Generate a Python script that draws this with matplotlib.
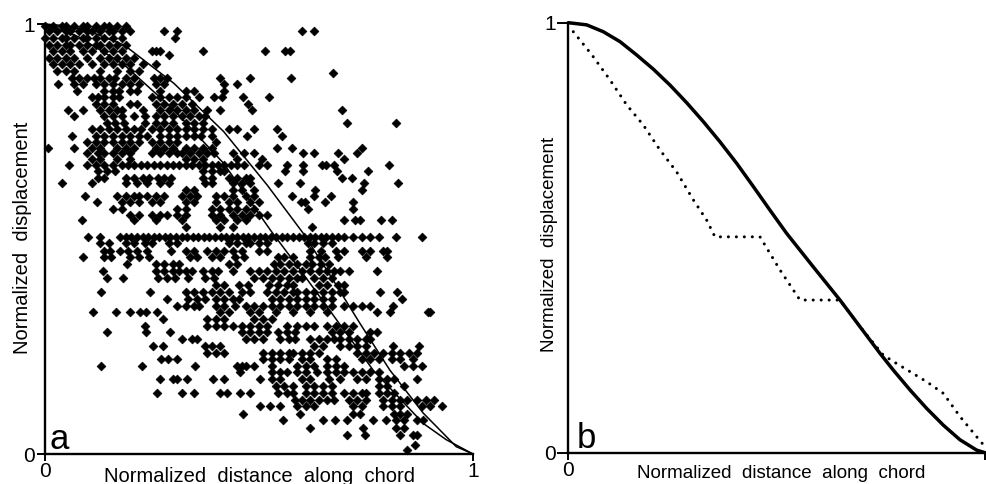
import matplotlib
matplotlib.use('Agg')
import matplotlib.pyplot as plt

plt.rcParams['font.family'] = ['Liberation Sans', 'DejaVu Sans']

################################################################################################
# DATA
################################################################################################

# panel a: the two reference curves
a_outer_x = [0.0, 0.05, 0.10, 0.186, 0.302, 0.418, 0.52, 0.604, 0.667, 0.736, 0.806, 0.884, 0.961, 1.0]
a_outer_y = [1.0, 0.996, 0.985, 0.951, 0.862, 0.750, 0.625, 0.513, 0.415, 0.304, 0.195, 0.095, 0.017, 0.0]
a_inner_x = [0.0, 0.08, 0.186, 0.302, 0.418, 0.527, 0.597, 0.659, 0.767, 0.884, 0.938, 1.0]
a_inner_y = [1.0, 0.97, 0.905, 0.800, 0.676, 0.521, 0.428, 0.343, 0.195, 0.071, 0.033, 0.0]

# panel a: measured points, grouped by row -> (displacement, [distances])
scatter_rows = [
    (0.995, [0.00, 0.02, 0.04, 0.05, 0.07, 0.09, 0.10, 0.12, 0.14, 0.15, 0.17, 0.19]),
    (0.983, [0.01, 0.03, 0.05, 0.06, 0.08, 0.10, 0.11, 0.13, 0.15, 0.16, 0.18, 0.20, 0.28, 0.31, 0.60, 0.63]),
    (0.967, [0.00, 0.02, 0.04, 0.05, 0.07, 0.09, 0.10, 0.12, 0.14, 0.16, 0.18, 0.305]),
    (0.951, [0.01, 0.03, 0.05, 0.06, 0.08, 0.10, 0.12, 0.13, 0.15, 0.17, 0.19]),
    (0.938, [0.02, 0.04, 0.06, 0.09, 0.11, 0.14, 0.16, 0.18, 0.25, 0.26, 0.27, 0.37, 0.515, 0.562, 0.572]),
    (0.928, [0.29]),
    (0.922, [0.01, 0.03, 0.05, 0.07, 0.10, 0.13, 0.15, 0.17, 0.19, 0.21]),
    (0.906, [0.02, 0.04, 0.06, 0.08, 0.11, 0.14, 0.16, 0.18, 0.20, 0.23, 0.26]),
    (0.890, [0.03, 0.05, 0.07, 0.13, 0.17, 0.20, 0.22]),
    (0.885, [0.674]),
    (0.875, [0.065, 0.08, 0.10, 0.115, 0.13, 0.15, 0.165, 0.19, 0.21, 0.255, 0.27, 0.285, 0.41, 0.48, 0.575]),
    (0.860, [0.032, 0.07, 0.09, 0.12, 0.14, 0.16, 0.18, 0.20, 0.22, 0.26, 0.28, 0.42, 0.45]),
    (0.845, [0.075, 0.14, 0.16, 0.175, 0.20, 0.215, 0.27, 0.33, 0.35, 0.42]),
    (0.830, [0.11, 0.125, 0.14, 0.16, 0.175, 0.25, 0.27, 0.29, 0.31, 0.33, 0.36, 0.395, 0.415, 0.464, 0.525]),
    (0.815, [0.12, 0.14, 0.16, 0.20, 0.215, 0.26, 0.28, 0.30, 0.32, 0.345, 0.476]),
    (0.800, [0.056, 0.091, 0.13, 0.15, 0.17, 0.18, 0.23, 0.27, 0.29, 0.31, 0.33, 0.35, 0.379, 0.41, 0.484, 0.694]),
    (0.785, [0.068, 0.14, 0.16, 0.18, 0.21, 0.235, 0.26, 0.28, 0.30, 0.32, 0.34, 0.36, 0.375]),
    (0.770, [0.145, 0.165, 0.185, 0.235, 0.26, 0.28, 0.30, 0.33, 0.35, 0.37, 0.707, 0.821]),
    (0.755, [0.11, 0.13, 0.15, 0.17, 0.19, 0.21, 0.225, 0.25, 0.27, 0.29, 0.31, 0.33, 0.35, 0.37, 0.39, 0.43, 0.45, 0.488, 0.542]),
    (0.740, [0.064, 0.12, 0.14, 0.16, 0.18, 0.20, 0.22, 0.24, 0.27, 0.29, 0.31, 0.33, 0.35, 0.365, 0.39, 0.472, 0.554]),
    (0.725, [0.10, 0.12, 0.14, 0.16, 0.18, 0.20, 0.22, 0.25, 0.27, 0.29, 0.31, 0.40]),
    (0.712, [0.009, 0.069, 0.11, 0.13, 0.17, 0.19, 0.21, 0.26, 0.28, 0.30, 0.33, 0.35, 0.37, 0.39, 0.542, 0.577, 0.741]),
    (0.700, [0.10, 0.125, 0.14, 0.16, 0.18, 0.20, 0.25, 0.27, 0.29, 0.31, 0.32, 0.34, 0.36, 0.38, 0.395, 0.44, 0.465,
             0.488, 0.604, 0.629, 0.686, 0.729]),
    (0.686, [0.11, 0.13, 0.17, 0.20, 0.33, 0.35, 0.37, 0.45, 0.507, 0.699]),
    (0.672, [0.058, 0.099, 0.12, 0.14, 0.16, 0.18, 0.195, 0.21, 0.225, 0.24, 0.255, 0.27, 0.285, 0.30, 0.315, 0.33,
             0.345, 0.36, 0.375, 0.39, 0.405, 0.42, 0.435, 0.45, 0.465, 0.50, 0.52, 0.566, 0.604, 0.647, 0.658, 0.676, 0.804]),
    (0.657, [0.125, 0.145, 0.165, 0.37, 0.39, 0.41, 0.42, 0.562, 0.603, 0.682, 0.756]),
    (0.643, [0.125, 0.14, 0.19, 0.21, 0.23, 0.245, 0.265, 0.28, 0.295, 0.37, 0.39, 0.43, 0.45, 0.47, 0.48, 0.694, 0.717]),
    (0.630, [0.040, 0.110, 0.19, 0.215, 0.24, 0.27, 0.29, 0.375, 0.39, 0.44, 0.46, 0.48, 0.546, 0.597, 0.746, 0.825]),
    (0.615, [0.33, 0.35, 0.44, 0.46, 0.49, 0.631, 0.740]),
    (0.600, [0.095, 0.17, 0.19, 0.21, 0.22, 0.24, 0.26, 0.28, 0.32, 0.34, 0.355, 0.40, 0.42, 0.44, 0.47, 0.49, 0.577, 0.628, 0.669]),
    (0.585, [0.122, 0.18, 0.20, 0.22, 0.25, 0.27, 0.33, 0.35, 0.40, 0.43, 0.45, 0.48, 0.50, 0.598, 0.608, 0.655, 0.719]),
    (0.570, [0.16, 0.18, 0.31, 0.33, 0.39, 0.41, 0.43, 0.45, 0.47, 0.49, 0.616, 0.719]),
    (0.555, [0.20, 0.22, 0.25, 0.27, 0.285, 0.31, 0.33, 0.39, 0.41, 0.44, 0.46, 0.48, 0.50, 0.52]),
    (0.544, [0.087, 0.21, 0.26, 0.32, 0.40, 0.42, 0.45, 0.47, 0.698, 0.725, 0.737, 0.785, 0.812]),
    (0.528, [0.33, 0.41, 0.44, 0.624]),
    (0.505, [0.102, 0.13, 0.176, 0.19, 0.203, 0.216, 0.229, 0.242, 0.255, 0.268, 0.281, 0.294, 0.307, 0.32, 0.333,
             0.346, 0.359, 0.372, 0.385, 0.398, 0.411, 0.424, 0.437, 0.45, 0.463, 0.476, 0.489, 0.502, 0.515, 0.528,
             0.541, 0.554, 0.567, 0.58, 0.593, 0.606, 0.619, 0.632, 0.645, 0.658, 0.671, 0.684, 0.70, 0.72, 0.74,
             0.76, 0.78, 0.82, 0.88]),
    (0.490, [0.13, 0.15, 0.19, 0.21, 0.235, 0.25, 0.29, 0.31, 0.43, 0.45, 0.47, 0.48, 0.50, 0.52, 0.615, 0.63, 0.65, 0.67]),
    (0.473, [0.14, 0.153, 0.176, 0.195, 0.215, 0.24, 0.295, 0.33, 0.35, 0.38, 0.40, 0.42, 0.44, 0.46, 0.50, 0.52,
             0.62, 0.645, 0.68, 0.70, 0.74, 0.76, 0.79, 0.80]),
    (0.457, [0.091, 0.14, 0.155, 0.20, 0.22, 0.245, 0.34, 0.355, 0.39, 0.41, 0.445, 0.465, 0.545, 0.56, 0.58, 0.62,
             0.64, 0.655, 0.685, 0.75, 0.80]),
    (0.441, [0.192, 0.26, 0.28, 0.30, 0.315, 0.43, 0.45, 0.535, 0.55, 0.57, 0.59, 0.61, 0.625, 0.645, 0.665]),
    (0.425, [0.137, 0.26, 0.28, 0.30, 0.315, 0.33, 0.345, 0.37, 0.39, 0.405, 0.44, 0.48, 0.50, 0.52, 0.54, 0.56, 0.58,
             0.60, 0.62, 0.64, 0.66, 0.675, 0.69, 0.71, 0.775]),
    (0.409, [0.145, 0.184, 0.265, 0.285, 0.305, 0.335, 0.375, 0.395, 0.49, 0.51, 0.53, 0.55, 0.57, 0.59, 0.60, 0.63, 0.65, 0.67]),
    (0.393, [0.40, 0.42, 0.455, 0.475, 0.525, 0.545, 0.565, 0.58, 0.64, 0.66, 0.685, 0.70]),
    (0.377, [0.133, 0.246, 0.33, 0.35, 0.37, 0.39, 0.41, 0.43, 0.46, 0.48, 0.52, 0.54, 0.56, 0.58, 0.59, 0.61, 0.63,
             0.65, 0.67, 0.69, 0.70, 0.783, 0.822]),
    (0.361, [0.285, 0.335, 0.355, 0.375, 0.40, 0.42, 0.44, 0.455, 0.53, 0.55, 0.57, 0.59, 0.61, 0.63, 0.65, 0.67, 0.834]),
    (0.345, [0.31, 0.33, 0.35, 0.36, 0.40, 0.42, 0.445, 0.47, 0.49, 0.51, 0.53, 0.55, 0.57, 0.59, 0.61, 0.63, 0.65,
             0.67, 0.70, 0.72, 0.74, 0.76, 0.814]),
    (0.330, [0.114, 0.168, 0.20, 0.223, 0.238, 0.262, 0.41, 0.43, 0.48, 0.50, 0.54, 0.58, 0.62, 0.66, 0.775, 0.806, 0.896, 0.90]),
    (0.314, [0.277, 0.38, 0.40, 0.42, 0.49, 0.51, 0.53]),
    (0.298, [0.235, 0.38, 0.40, 0.42, 0.44, 0.46, 0.48, 0.50, 0.52, 0.565, 0.59, 0.61, 0.63, 0.66, 0.68, 0.70, 0.72]),
    (0.283, [0.145, 0.238, 0.293, 0.46, 0.48, 0.50, 0.52, 0.545, 0.565, 0.585, 0.67, 0.69, 0.71, 0.76, 0.775]),
    (0.268, [0.32, 0.345, 0.355, 0.47, 0.49, 0.51, 0.55, 0.57, 0.585, 0.62, 0.64, 0.66, 0.675, 0.69, 0.71, 0.73, 0.75, 0.76]),
    (0.252, [0.254, 0.277, 0.375, 0.39, 0.41, 0.63, 0.65, 0.69, 0.71, 0.73, 0.75, 0.814, 0.873]),
    (0.236, [0.38, 0.40, 0.42, 0.51, 0.53, 0.55, 0.57, 0.58, 0.60, 0.62, 0.64, 0.73, 0.75, 0.77, 0.79, 0.81, 0.83, 0.85, 0.87]),
    (0.220, [0.273, 0.289, 0.309, 0.51, 0.53, 0.55, 0.57, 0.60, 0.62, 0.66, 0.68, 0.74, 0.76, 0.78, 0.81, 0.83, 0.86]),
    (0.205, [0.133, 0.227, 0.351, 0.449, 0.46, 0.47, 0.49, 0.53, 0.59, 0.61, 0.63, 0.66, 0.68, 0.70, 0.84, 0.86, 0.88]),
    (0.190, [0.456, 0.53, 0.55, 0.565, 0.59, 0.61, 0.635, 0.66, 0.68, 0.70, 0.72, 0.74, 0.76, 0.78]),
    (0.174, [0.27, 0.301, 0.309, 0.332, 0.394, 0.418, 0.503, 0.53, 0.55, 0.60, 0.62, 0.665, 0.69, 0.73, 0.75, 0.78,
             0.80, 0.815, 0.869]),
    (0.158, [0.54, 0.56, 0.58, 0.61, 0.63, 0.65, 0.67, 0.78, 0.80, 0.84]),
    (0.142, [0.262, 0.32, 0.348, 0.41, 0.425, 0.456, 0.48, 0.545, 0.565, 0.58, 0.61, 0.63, 0.65, 0.67, 0.70, 0.72,
             0.74, 0.75, 0.78, 0.80, 0.815]),
    (0.126, [0.585, 0.60, 0.62, 0.64, 0.66, 0.675, 0.71, 0.73, 0.75, 0.79, 0.81, 0.83, 0.845, 0.87, 0.89, 0.91]),
    (0.112, [0.503, 0.527, 0.55, 0.59, 0.61, 0.63, 0.72, 0.74, 0.79, 0.81, 0.83, 0.88, 0.90, 0.927]),
    (0.094, [0.464, 0.596, 0.721, 0.736, 0.815, 0.83, 0.845]),
    (0.078, [0.557, 0.65, 0.678, 0.705, 0.767, 0.798, 0.82, 0.84, 0.869, 0.884]),
    (0.060, [0.62, 0.744, 0.82, 0.84]),
    (0.045, [0.705, 0.748, 0.83, 0.861, 0.869]),
    (0.020, [0.865]),
    (0.009, [0.845]),
]

# panel b: smooth profile and stepped (dotted) profile
b_solid_x = [0.0, 0.044, 0.084, 0.124, 0.164, 0.204, 0.244, 0.284, 0.324, 0.364, 0.404, 0.444, 0.484, 0.524,
             0.588, 0.652, 0.700, 0.748, 0.780, 0.820, 0.860, 0.900, 0.940, 0.980, 1.0]
b_solid_y = [1.0, 0.995, 0.979, 0.956, 0.925, 0.892, 0.855, 0.814, 0.770, 0.723, 0.673, 0.619, 0.564, 0.510,
             0.432, 0.355, 0.293, 0.231, 0.192, 0.146, 0.103, 0.064, 0.030, 0.006, 0.0]
b_dotted_x = [0.012, 0.056, 0.100, 0.140, 0.180, 0.220, 0.260, 0.300, 0.332, 0.352, 0.460, 0.508, 0.556, 0.652,
              0.700, 0.756, 0.780, 0.860, 0.900, 0.940, 0.980, 1.0]
b_dotted_y = [0.979, 0.926, 0.867, 0.809, 0.762, 0.704, 0.653, 0.588, 0.541, 0.502, 0.502, 0.425, 0.355, 0.355,
              0.293, 0.227, 0.212, 0.165, 0.138, 0.084, 0.037, 0.014]

x_label = 'Normalized  distance  along  chord'
y_label = 'Normalized  displacement'

################################################################################################
# PLOT
################################################################################################

def style_axes(ax, xticklabels, ylen):
    ax.set_xlim(0, 1)
    ax.set_ylim(0, 1)
    for side in ['top', 'right']:
        ax.spines[side].set_visible(False)
    for side in ['left', 'bottom']:
        ax.spines[side].set_linewidth(1.7)
    ax.set_xticks([0, 1])
    ax.set_xticklabels(xticklabels)
    ax.set_yticks([0, 1])
    ax.set_yticklabels(['0', '1'])
    ax.tick_params(axis='x', direction='out', length=5, width=1.4, labelsize=15, pad=1)
    ax.tick_params(axis='y', direction='out', length=ylen, width=1.4, labelsize=15, pad=1)


fig = plt.figure(figsize=(9.86, 4.84), dpi=100)

ax_a = fig.add_axes([44.5 / 986, 30 / 484, 428.5 / 986, 430 / 484])
ax_b = fig.add_axes([568.3 / 986, 31.3 / 484, 416.7 / 986, 430 / 484])

pts_x = [x for y, xs in scatter_rows for x in xs]
pts_y = [y for y, xs in scatter_rows for x in xs]
ax_a.scatter(pts_x, pts_y, s=20, marker='D', color='black', linewidths=0.5, edgecolors='black',
             clip_on=False, zorder=3)
ax_a.plot(a_outer_x, a_outer_y, color='black', lw=1.1, clip_on=False, zorder=4)
ax_a.plot(a_inner_x, a_inner_y, color='black', lw=1.1, clip_on=False, zorder=4)
style_axes(ax_a, ['0', '1'], 6)
ax_a.text(0.012, -0.005, 'a', fontsize=25, ha='left', va='bottom', transform=ax_a.transAxes)

ax_b.plot(b_solid_x, b_solid_y, color='black', lw=2.5, clip_on=False, solid_capstyle='round')
ax_b.plot(b_dotted_x, b_dotted_y, color='black', lw=2.2, linestyle=(0, (0.01, 2.6)),
          dash_capstyle='round', clip_on=False)
style_axes(ax_b, ['0', ''], 8)
ax_b.text(0.02, -0.005, 'b', fontsize=25, ha='left', va='bottom', transform=ax_b.transAxes)

fig.text(260 / 986, 1 - 476 / 484, x_label, fontsize=14.5, ha='center', va='center')
fig.text(781 / 986, 1 - 473 / 484, x_label, fontsize=13.5, ha='center', va='center')
fig.text(23 / 986, 1 - 238 / 484, y_label, fontsize=14.5, ha='center', va='center', rotation=90)
fig.text(549 / 986, 1 - 244 / 484, y_label, fontsize=13.5, ha='center', va='center', rotation=90)

plt.savefig('out.png', dpi=100)
